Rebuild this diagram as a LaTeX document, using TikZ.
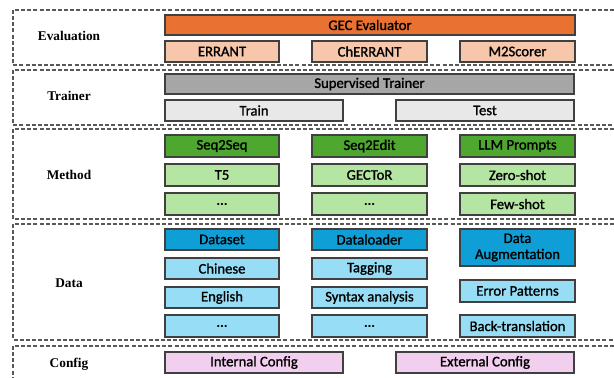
\documentclass[tikz,border=0pt]{standalone}
\usepackage{fontspec}
\setmainfont{Carlito}
\newfontfamily\boxfont{Carlito}[FakeBold=1.2]
\newfontfamily\labelfont{Liberation Serif}
\usetikzlibrary{calc}
\definecolor{evaldark}{RGB}{233,113,50}
\definecolor{evallight}{RGB}{247,199,172}
\definecolor{traindark}{RGB}{166,166,166}
\definecolor{trainlight}{RGB}{232,232,232}
\definecolor{methdark}{RGB}{78,167,46}
\definecolor{methlight}{RGB}{180,229,162}
\definecolor{datadark}{RGB}{15,158,213}
\definecolor{datalight}{RGB}{151,221,245}
\definecolor{confpink}{RGB}{242,206,239}
\tikzset{blkline/.style={draw=black!75,line width=0.8pt},
	layerline/.style={draw=black!65,line width=0.8pt,dash pattern=on 3pt off 1.6pt},
	layertext/.style={font=\labelfont\bfseries\fontsize{10}{12}\selectfont}}
\newcommand{\blk}[5]{\draw[blkline,fill=#2] (#3) rectangle (#4);
	\node[align=center,inner sep=0pt] (#1) at ($(#3)!0.5!(#4)$) {#5}}
\newcommand{\layer}[2]{\draw[layerline] (614,#1) -- (13,#1) -- (13,#2) -- (614,#2)}

\begin{document}
\begin{tikzpicture}[x=0.75pt,y=-0.75pt,font=\boxfont\fontsize{11}{12}\selectfont]
	\useasboundingbox (0,0) rectangle (614,378);
		\layer{10}{65};
		\layer{70}{125};
		\layer{129}{219};
		\layer{224}{340};
		\draw[layerline] (614,346) -- (13,346) -- (13,378);
			\node[layertext] (evaluation) at (69,36) {Evaluation};
			\node[layertext] (trainer) at (69,96) {Trainer};
			\node[layertext] (method) at (69,175) {Method};
			\node[layertext] (data) at (69,283) {Data};
			\node[layertext] (config) at (69,364) {Config};
	% evaluation
		\blk{gec}{evaldark}{165,15}{575,35}{GEC Evaluator};
		\blk{errant}{evallight}{165,41}{279,62}{ERRANT};
		\blk{cherrant}{evallight}{312,41}{427,62}{ChERRANT};
		\blk{m2}{evallight}{460,41}{575,62}{M2Scorer};
	% trainer
		\blk{sup}{traindark}{165,74}{574,94}{Supervised Trainer};
		\blk{train}{trainlight}{165,100}{343,121}{Train};
		\blk{test}{trainlight}{396,100}{574,121}{Test};
	% method
		\blk{seqseq}{methdark}{165,135}{279,157}{Seq2Seq};
		\blk{tfive}{methlight}{165,164}{279,186}{T5};
		\blk{methdotsa}{methlight}{165,193}{279,215}{…};
		\blk{seqedit}{methdark}{312,135}{427,157}{Seq2Edit};
		\blk{gector}{methlight}{312,164}{427,186}{GECToR};
		\blk{methdotsb}{methlight}{312,193}{427,215}{…};
		\blk{llm}{methdark}{460,135}{575,157}{LLM Prompts};
		\blk{zero}{methlight}{460,164}{575,186}{Zero-shot};
		\blk{few}{methlight}{460,193}{575,215}{Few-shot};
	% data
		\blk{dataset}{datadark}{165,229}{279,250}{Dataset};
		\blk{chinese}{datalight}{165,258}{279,279}{Chinese};
		\blk{english}{datalight}{165,287}{279,308}{English};
		\blk{datadotsa}{datalight}{165,315}{279,337}{…};
		\blk{loader}{datadark}{312,229}{427,250}{Dataloader};
		\blk{tagging}{datalight}{312,258}{427,279}{Tagging};
		\blk{syntax}{datalight}{312,287}{427,308}{Syntax analysis};
		\blk{datadotsb}{datalight}{312,315}{427,337}{…};
		\blk{augment}{datadark}{460,229}{575,266}{Data\\Augmentation};
		\blk{errpat}{datalight}{460,280}{575,302}{Error Patterns};
		\blk{backtr}{datalight}{460,315}{575,337}{Back-translation};
	% config
		\blk{internal}{confpink}{165,352}{343,373}{Internal Config};
		\blk{external}{confpink}{396,352}{574,373}{External Config};
\end{tikzpicture}
\end{document}
